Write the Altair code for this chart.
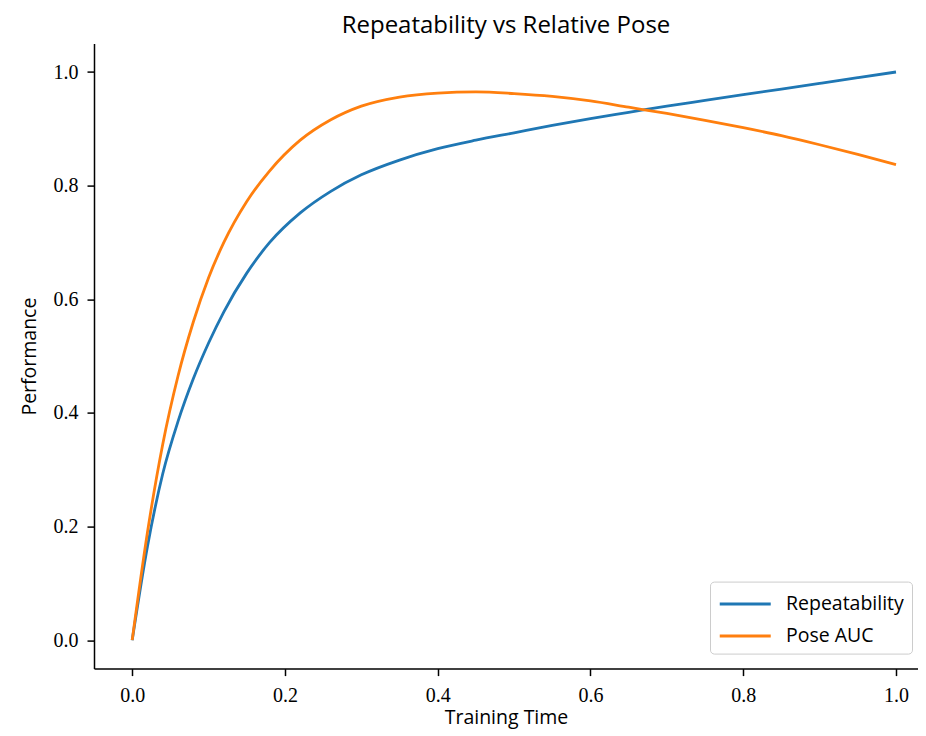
import altair as alt
import pandas as pd

# Data
time = [0.0, 0.02, 0.04, 0.06, 0.08, 0.10, 0.12, 0.15, 0.18, 0.22, 0.26, 0.30,
        0.35, 0.40, 0.45, 0.50, 0.55, 0.60, 0.65, 0.70, 0.75, 0.80, 0.85, 0.90,
        0.95, 1.00]
repeatability = [0.0, 0.165, 0.293, 0.385, 0.460, 0.523, 0.578, 0.646, 0.700,
                 0.752, 0.790, 0.819, 0.845, 0.865, 0.880, 0.893, 0.906, 0.918,
                 0.929, 0.940, 0.950, 0.960, 0.970, 0.980, 0.990, 1.000]
pose_auc = [0.0, 0.190, 0.345, 0.465, 0.560, 0.638, 0.700, 0.772, 0.826, 0.880,
            0.916, 0.940, 0.956, 0.963, 0.965, 0.962, 0.957, 0.949, 0.938,
            0.927, 0.915, 0.902, 0.888, 0.872, 0.855, 0.837]
series_names = ["Repeatability", "Pose AUC"]
series_colors = ["#1f77b4", "#ff7f0e"]
tick_values = [0.0, 0.2, 0.4, 0.6, 0.8, 1.0]

df_rep = pd.DataFrame({"time": time, "value": repeatability, "series": series_names[0]})
df_pose = pd.DataFrame({"time": time, "value": pose_auc, "series": series_names[1]})

sans = "Open Sans"
serif = "Liberation Serif"

x_enc = alt.X("time:Q",
              scale=alt.Scale(domain=[-0.05, 1.0288], nice=False, zero=False),
              axis=alt.Axis(values=tick_values, format=".1f", title="Training Time"))
y_enc = alt.Y("value:Q",
              scale=alt.Scale(domain=[-0.05, 1.05], nice=False, zero=False),
              axis=alt.Axis(values=tick_values, format=".1f", title="Performance"))
color_enc = alt.Color(
    "series:N",
    scale=alt.Scale(domain=series_names, range=series_colors),
    legend=alt.Legend(
        title=None, orient="none", legendX=616, legendY=538,
        symbolType="M-1,0H3", symbolSize=650, symbolStrokeWidth=3,
        labelFont=sans, labelFontSize=19.5, labelColor="black",
        labelOffset=39, padding=8, rowPadding=8,
        fillColor="rgba(255,255,255,0.8)", strokeColor="#cccccc",
        cornerRadius=4,
    ),
)

base_line = dict(strokeWidth=2.8, interpolate="monotone")
line_rep = alt.Chart(df_rep).mark_line(**base_line).encode(x=x_enc, y=y_enc, color=color_enc)
line_pose = alt.Chart(df_pose).mark_line(**base_line).encode(x=x_enc, y=y_enc, color=color_enc)

chart = alt.layer(line_rep, line_pose).properties(
    width=824, height=625,
    title=alt.TitleParams("Repeatability vs Relative Pose", font=sans, fontSize=24,
                          fontWeight="normal", color="black", offset=6),
    autosize=alt.AutoSizeParams(type="none"),
    padding={"left": 86, "top": 35.6, "right": 0, "bottom": 64},
).configure_view(stroke=None).configure_axis(
    domainColor="black", domainWidth=1.5, tickColor="black", tickWidth=1.5,
    tickSize=7, grid=False, labelFont=serif, labelFontSize=20, labelColor="black",
    titleFont=sans, titleFontSize=19.5, titleFontWeight="normal", titleColor="black",
).configure_axisX(labelPadding=10, titlePadding=3).configure_axisY(
    labelPadding=9, titlePadding=14)

chart.save("out.html", embed_options={"renderer": "svg", "actions": False})
